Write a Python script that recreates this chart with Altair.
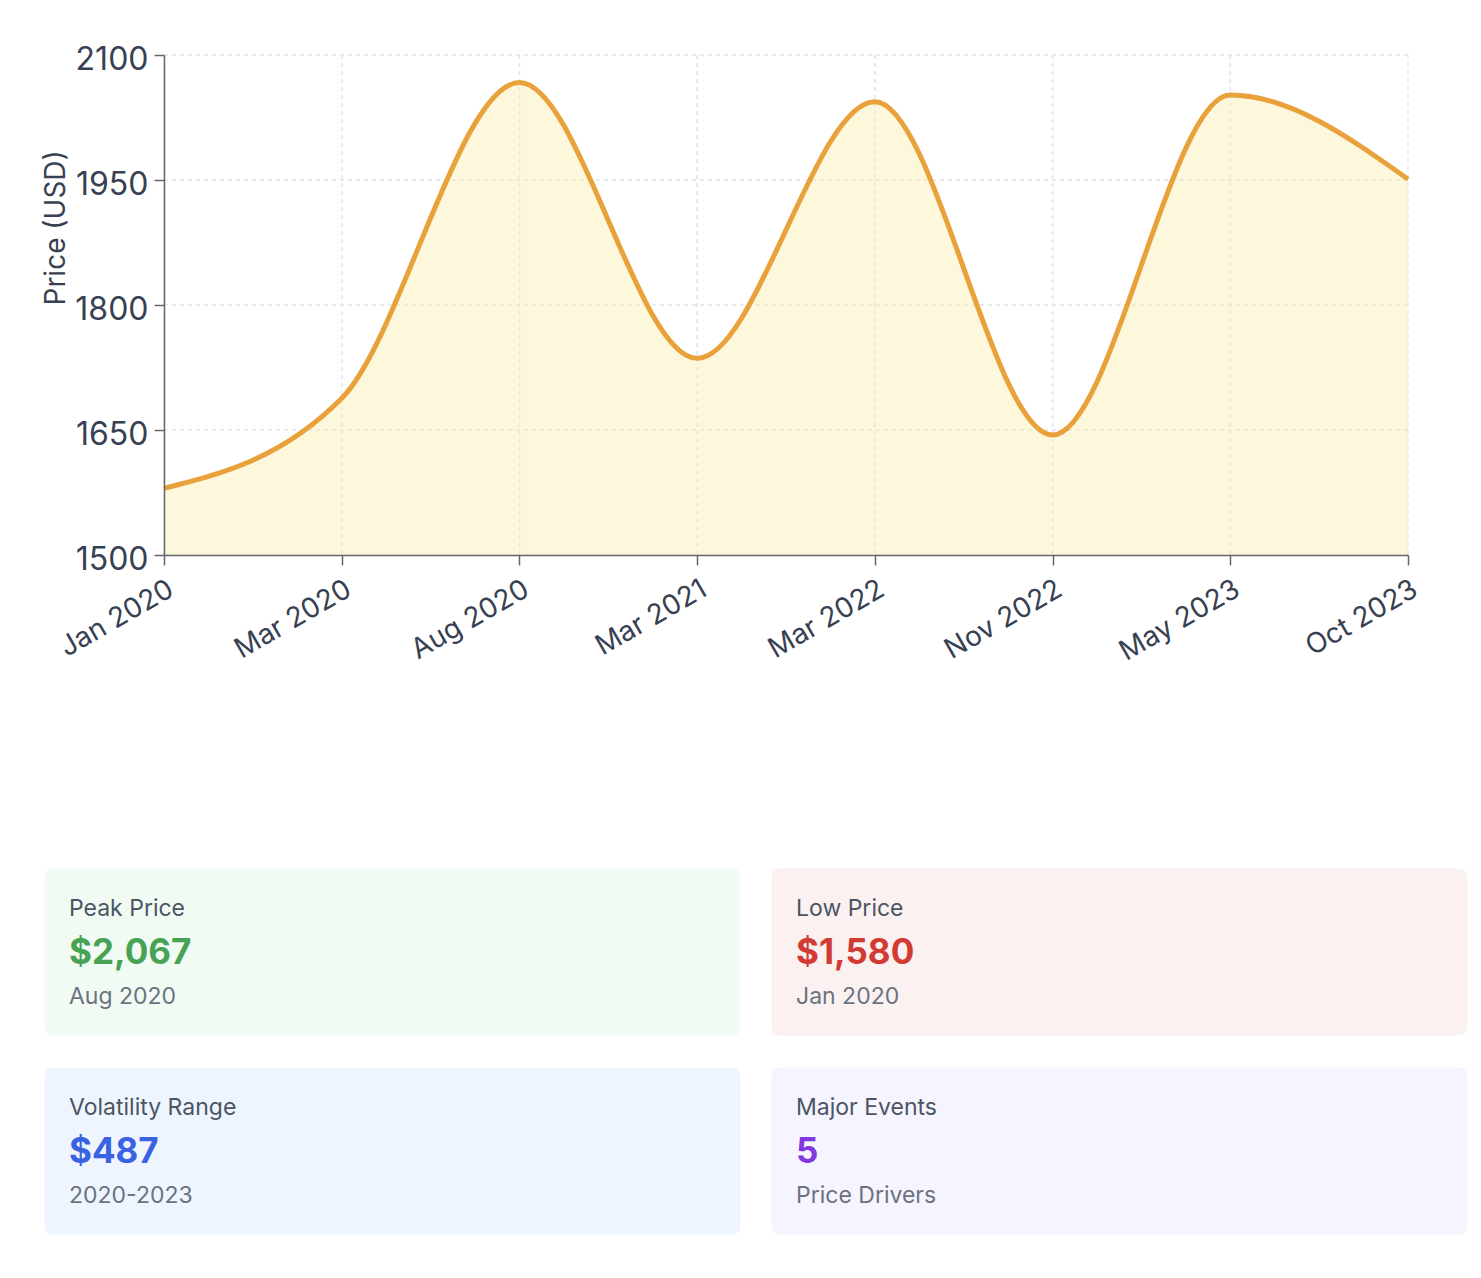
import altair as alt
import pandas as pd

# ---- data ----
dates = ["Jan 2020", "Mar 2020", "Aug 2020", "Mar 2021", "Mar 2022", "Nov 2022", "May 2023", "Oct 2023"]
prices = [1580, 1688, 2067, 1736, 2044, 1644, 2052, 1951]
y_ticks = [1500, 1650, 1800, 1950, 2100]
y_min, y_max = 1500, 2100

card_titles = ["Peak Price", "Low Price", "Volatility Range", "Major Events"]
card_values = ["$2,067", "$1,580", "$487", "5"]
card_subs = ["Aug 2020", "Jan 2020", "2020-2023", "Price Drivers"]
card_value_colors = ["#47a353", "#d23a34", "#3a62e2", "#8238e0"]
card_fills = ["#f1fbf4", "#fcf1f1", "#eff5fe", "#f6f4fe"]

FONT = "Inter"
AXIS_GAP = 120          # room for the y axis inside the view
VIEW_W = 1364
VIEW_H = 500

df = pd.DataFrame({"date": dates, "price": prices})
hgrid_df = pd.DataFrame({"tick": y_ticks, "x0": dates[0], "x1": dates[-1]})
vgrid_df = pd.DataFrame({"date": dates, "lo": y_min, "hi": y_max})

x_scale = alt.Scale(type="point", padding=0, domain=dates, range=[AXIS_GAP, VIEW_W])
y_scale = alt.Scale(domain=[y_min, y_max], nice=False, zero=False)

x_axis = alt.Axis(
    title=None,
    labelAngle=-30,
    labelAlign="right",
    labelBaseline="top",
    labelFontSize=28,
    labelColor="#374151",
    labelFont=FONT,
    labelPadding=10,
    tickSize=10,
    tickColor="#666666",
    tickWidth=1.5,
    domainColor="#666666",
    domainWidth=1.5,
    grid=False,
    zindex=1,
)
y_axis = alt.Axis(
    values=y_ticks,
    format="d",
    offset=-AXIS_GAP,
    title="Price (USD)",
    titleFontSize=28,
    titleFontWeight="normal",
    titleColor="#374151",
    titleFont=FONT,
    titleAlign="left",
    titlePadding=4,
    labelFontSize=32,
    labelColor="#374151",
    labelFont=FONT,
    labelPadding=6,
    labelOffset=4,
    tickSize=10,
    tickColor="#666666",
    tickWidth=1.5,
    domainColor="#666666",
    domainWidth=1.5,
    grid=False,
    zindex=1,
)

grid_style = dict(color="#e3e5ea", strokeWidth=1.5, strokeDash=[4, 4])

hgrid = alt.Chart(hgrid_df).mark_rule(**grid_style).encode(
    y=alt.Y("tick:Q", scale=y_scale, axis=y_axis),
    x=alt.X("x0:N", scale=x_scale, axis=x_axis),
    x2="x1:N",
)
vgrid = alt.Chart(vgrid_df).mark_rule(**grid_style).encode(
    x=alt.X("date:N", scale=x_scale, axis=x_axis),
    y=alt.Y("lo:Q", scale=y_scale, axis=y_axis),
    y2="hi:Q",
)

base = alt.Chart(df)
area = base.mark_area(interpolate="monotone", color="#faeb9b", opacity=0.36, clip=True).encode(
    x=alt.X("date:N", scale=x_scale, axis=x_axis),
    y=alt.Y("price:Q", scale=y_scale, axis=y_axis),
    y2=alt.datum(y_min),
)
line = base.mark_line(interpolate="monotone", color="#e9a23b", strokeWidth=5).encode(
    x=alt.X("date:N", scale=x_scale, axis=x_axis),
    y=alt.Y("price:Q", scale=y_scale, axis=y_axis),
)
top = alt.layer(hgrid, vgrid, area, line).properties(width=VIEW_W, height=VIEW_H)


def card(i):
    cdf = pd.DataFrame({
        "title": [card_titles[i]],
        "value": [card_values[i]],
        "sub": [card_subs[i]],
    })
    cb = alt.Chart(cdf)
    t1 = cb.mark_text(align="left", baseline="middle", font=FONT, fontSize=23, color="#4b5563").encode(
        x=alt.value(25), y=alt.value(41), text="title:N")
    t2 = cb.mark_text(align="left", baseline="middle", font=FONT, fontSize=35, fontWeight="bold",
                      color=card_value_colors[i]).encode(
        x=alt.value(25), y=alt.value(85), text="value:N")
    t3 = cb.mark_text(align="left", baseline="middle", font=FONT, fontSize=23, color="#6b7280").encode(
        x=alt.value(25), y=alt.value(129), text="sub:N")
    return alt.layer(t1, t2, t3).properties(
        width=696, height=167,
        view=alt.ViewBackground(fill=card_fills[i], stroke="transparent", cornerRadius=8),
    )


row1 = alt.hconcat(card(0), card(1), spacing=29)
row2 = alt.hconcat(card(2), card(3), spacing=29)
cards = alt.vconcat(row1, row2, spacing=30)

chart = alt.vconcat(top, cards, spacing=200).properties(
    padding={"left": 34, "top": 34, "right": 0, "bottom": 5}
).configure(font=FONT, view=alt.ViewConfig(stroke="transparent"))

chart.save("out.html", embed_options={"renderer": "svg", "actions": False})
